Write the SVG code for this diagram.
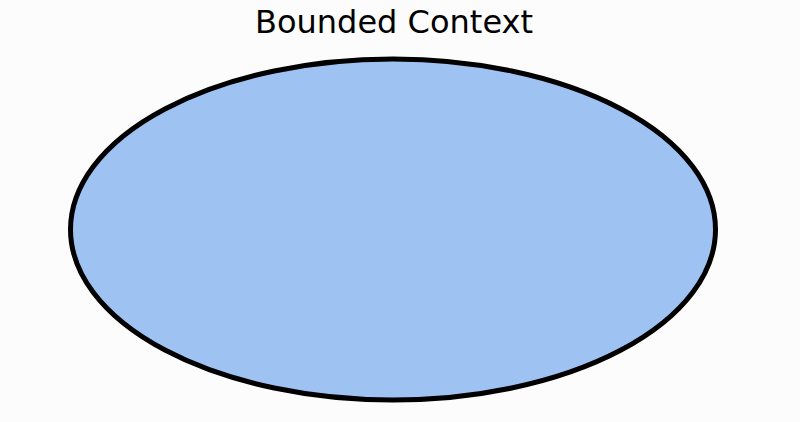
<svg xmlns="http://www.w3.org/2000/svg" width="800" height="422" viewBox="0 0 800 422">
<style>
.bg{fill:#fcfcfc}
.ctx{fill:#9ec3f2;stroke:#000;stroke-width:5}
.lbl{font-family:"DejaVu Sans",sans-serif;font-size:32px;fill:#000;text-anchor:middle}
</style>
<rect class="bg" width="800" height="422"/>
<g id="bounded-context">
<ellipse class="ctx" cx="393" cy="229.5" rx="322.5" ry="170.5"/>
<text class="lbl" x="394" y="33" textLength="278" lengthAdjust="spacingAndGlyphs">Bounded Context</text>
</g>
<g id="connectors"/>
</svg>
